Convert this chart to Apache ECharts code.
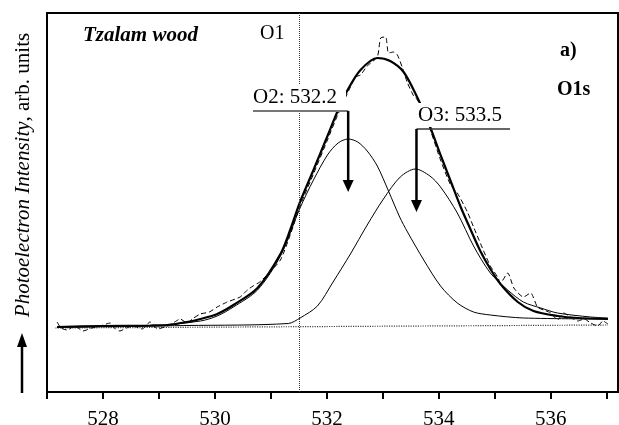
<!DOCTYPE html>
<html>
<head>
<meta charset="utf-8">
<script src="https://cdn.jsdelivr.net/npm/echarts@6/dist/echarts.min.js"></script>
<style>
html,body{margin:0;padding:0;background:#fff;}
#chart{width:619px;height:425px;}
</style>
</head>
<body>
<div id="chart"></div>
<script>
// ---- data (binding energy in eV, intensity in arb. units) ----
const tickValues = [527, 528, 529, 530, 531, 532, 533, 534, 535, 536, 537];
const labelValues = [528, 530, 532, 534, 536];

const bgE = [527.15, 537.02];
const bgI = [64, 67];

const fitE = [527.18, 527.95, 528.84, 529.15, 529.50, 529.74, 530.04, 530.33, 530.76, 531.17, 531.35, 531.52, 531.76, 532.01, 532.20, 532.37, 532.60, 532.90, 533.13, 533.37, 533.62, 533.81, 534.03, 534.21, 534.39, 534.57, 534.74, 534.92, 535.10, 535.41, 535.69, 536.12, 536.48, 537.02];
const fitI = [65, 66, 66.5, 67, 70, 73, 78, 87, 104, 138, 163, 190, 222, 256, 282, 302, 322, 334, 331, 320, 294, 270, 237, 211, 185, 162, 141, 123, 108, 90, 81, 76, 74, 73];

const o2E = [527.18, 528.84, 529.74, 530.04, 530.33, 530.76, 531.17, 531.52, 531.76, 532.01, 532.20, 532.38, 532.55, 532.72, 532.90, 533.10, 533.30, 533.44, 533.73, 534.03, 534.33, 534.62, 534.92, 535.51, 537.02];
const o2I = [65, 66, 71, 76, 85, 102, 136, 184, 212, 237, 249, 253, 250, 241, 226, 201, 175, 160, 132, 106, 89, 80, 77, 74, 73];

const o3E = [527.18, 529.50, 531.31, 531.52, 531.83, 532.11, 532.42, 532.72, 533.01, 533.31, 533.58, 533.84, 534.03, 534.33, 534.62, 534.92, 535.23, 535.51, 535.82, 536.12, 536.71, 537.02];
const o3I = [65, 66.5, 68.5, 74, 86, 110, 138, 167, 193, 215, 223, 216, 205, 179, 146, 119, 102, 90, 84, 79, 75, 74];

const dataE = [527.18, 527.25, 527.36, 527.50, 527.64, 527.80, 527.95, 528.13, 528.22, 528.30, 528.42, 528.54, 528.70, 528.84, 528.97, 529.15, 529.28, 529.38, 529.50, 529.62, 529.74, 529.90, 530.04, 530.22, 530.45, 530.58, 530.68, 530.80, 530.93, 531.17, 531.35, 531.52, 531.76, 532.01, 532.20, 532.51, 532.60, 532.72, 532.90, 532.96, 533.05, 533.10, 533.19, 533.26, 533.35, 533.44, 533.55, 533.62, 533.81, 534.03, 534.21, 534.33, 534.51, 534.62, 534.80, 534.92, 535.05, 535.10, 535.23, 535.34, 535.51, 535.64, 535.76, 535.87, 536.00, 536.12, 536.23, 536.35, 536.48, 536.60, 536.71, 536.84, 536.93, 537.02];
const dataI = [70, 64, 62, 66, 61, 64, 66, 69, 63, 61, 64, 66, 63, 70, 63, 66, 70, 73, 69, 74, 78, 80, 85, 90, 95, 102, 106, 110, 117, 132, 158, 186, 218, 252, 278, 315, 317, 326, 335, 354, 355, 339, 340, 337, 324, 309, 296, 292, 268, 232, 207, 199, 180, 165, 141, 126, 115, 109, 119, 104, 95, 99, 85, 82, 79, 72, 79, 75, 71, 73, 69, 66, 71, 68];

const o1Line = 531.5;
const peakLabels = ['O2: 532.2', 'O3: 533.5'];
const peakArrowE = [532.38, 533.6];

const zip = (a, b) => a.map((v, i) => [v, b[i]]);
const SERIF = '"Liberation Serif", "Times New Roman", serif';

const chart = echarts.init(document.getElementById('chart'), null, {renderer: 'canvas'});
const option = {
  animation: false,
  backgroundColor: '#fff',
  grid: {left: 47, right: 1, top: 13, bottom: 33, containLabel: false, outerBoundsMode: 'none',
         show: true, borderColor: '#000', borderWidth: 2, backgroundColor: 'transparent'},
  xAxis: {
    type: 'value', min: 527, max: 537.2,
    axisLine: {lineStyle: {color: '#000', width: 2}},
    axisTick: {show: true, length: 7, lineStyle: {color: '#000', width: 2}, customValues: tickValues},
    axisLabel: {customValues: labelValues, color: '#000', fontFamily: SERIF, fontSize: 21, margin: 17},
    splitLine: {show: false}
  },
  yAxis: {
    type: 'value', min: 0, max: 379,
    axisLine: {show: false}, axisTick: {show: false}, axisLabel: {show: false}, splitLine: {show: false}
  },
  series: [
    {type: 'line', data: zip(bgE, bgI), showSymbol: false, silent: true,
     lineStyle: {color: '#444', width: 1.2, type: 'dotted'},
     markLine: {silent: true, symbol: 'none', label: {show: false},
       lineStyle: {color: '#333', width: 1, type: 'dotted'}, data: [{xAxis: o1Line}]}},
    {type: 'line', data: zip(o3E, o3I), showSymbol: false, smooth: 0.3, silent: true,
     lineStyle: {color: '#000', width: 1}},
    {type: 'line', data: zip(o2E, o2I), showSymbol: false, smooth: 0.3, silent: true,
     lineStyle: {color: '#000', width: 1}},
    {type: 'line', data: zip(dataE, dataI), showSymbol: false, smooth: 0.2, silent: true,
     lineStyle: {color: '#000', width: 1, type: [5, 3]}},
    {type: 'line', data: zip(fitE, fitI), showSymbol: false, smooth: 0.3, silent: true,
     lineStyle: {color: '#000', width: 2.2}}
  ]
};
chart.setOption(option);

// annotations
const px2 = chart.convertToPixel({gridIndex: 0}, [peakArrowE[0], 0])[0];
const px3 = chart.convertToPixel({gridIndex: 0}, [peakArrowE[1], 0])[0];
function arrow(x, y0, y1, color) {
  return [
    {type: 'line', z: 110, shape: {x1: x, y1: y0, x2: x, y2: y1 - 10}, style: {stroke: color, lineWidth: 2.5}},
    {type: 'polygon', z: 110, shape: {points: [[x - 5.5, y1 - 12], [x + 5.5, y1 - 12], [x, y1]]}, style: {fill: color}}
  ];
}
const gr = [
  // masks behind labels
  {type: 'rect', z: 100, shape: {x: 251, y: 84, width: 95, height: 26}, style: {fill: '#fff'}},
  {type: 'rect', z: 100, shape: {x: 416, y: 103, width: 92, height: 24}, style: {fill: '#fff'}},
  {type: 'text', z: 110, x: 253, y: 97, style: {text: peakLabels[0], font: '21px ' + SERIF, fill: '#000', verticalAlign: 'middle', align: 'left'}},
  {type: 'line', z: 110, shape: {x1: 253, y1: 111, x2: px2, y2: 111}, style: {stroke: '#777', lineWidth: 2}},
  ...arrow(px2, 111, 192, '#000'),
  {type: 'text', z: 110, x: 418, y: 115, style: {text: peakLabels[1], font: '21px ' + SERIF, fill: '#000', verticalAlign: 'middle', align: 'left'}},
  {type: 'line', z: 110, shape: {x1: px3, y1: 129, x2: 510, y2: 129}, style: {stroke: '#333', lineWidth: 1.5}},
  ...arrow(px3, 129, 212, '#000'),
  {type: 'text', z: 110, x: 83, y: 36, style: {text: 'Tzalam wood', font: 'italic bold 21px ' + SERIF, fill: '#000', verticalAlign: 'middle', align: 'left'}},
  {type: 'text', z: 110, x: 260, y: 34, style: {text: 'O1', font: '20px ' + SERIF, fill: '#000', verticalAlign: 'middle', align: 'left'}},
  {type: 'text', z: 110, x: 560, y: 51, style: {text: 'a)', font: 'bold 20px ' + SERIF, fill: '#000', verticalAlign: 'middle', align: 'left'}},
  {type: 'text', z: 110, x: 557, y: 90, style: {text: 'O1s', font: 'bold 20px ' + SERIF, fill: '#000', verticalAlign: 'middle', align: 'left'}},
  // y axis title
  {type: 'text', z: 110, x: 23, y: 175, rotation: Math.PI / 2,
   style: {text: '{i|Photoelectron Intensity}{n|, arb. units}', align: 'center', verticalAlign: 'middle',
     rich: {i: {font: 'italic 21px ' + SERIF, fill: '#000'}, n: {font: '21px ' + SERIF, fill: '#000'}}}},
  {type: 'line', z: 110, shape: {x1: 22, y1: 393, x2: 22, y2: 344}, style: {stroke: '#000', lineWidth: 2.5}},
  {type: 'polygon', z: 110, shape: {points: [[17, 347], [27, 347], [22, 333]]}, style: {fill: '#000'}}
];
chart.setOption({graphic: {elements: gr}});
</script>
</body>
</html>
